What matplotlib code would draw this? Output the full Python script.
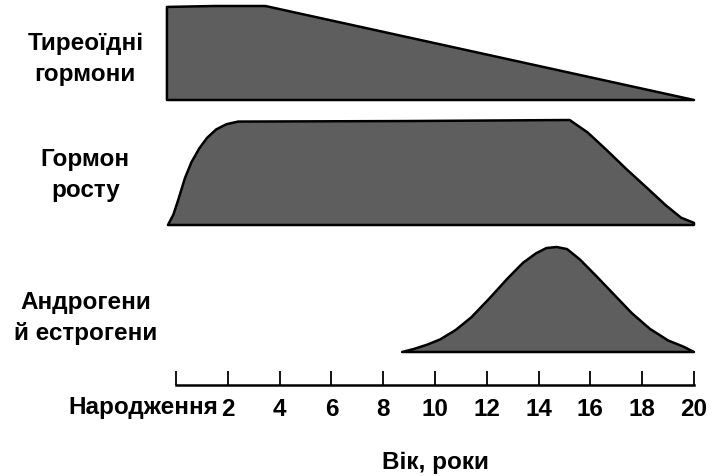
import matplotlib
matplotlib.use("Agg")
import matplotlib.pyplot as plt

plt.rcParams['font.family'] = ['Liberation Sans', 'DejaVu Sans']

# вік, роки та відносний рівень гормонів (0..1)
thyroid_age = [-0.35, 1.5, 3.45, 20]
thyroid_level = [0.99, 1.0, 1.0, 0.0]

growth_age = [-0.31, -0.1, 0.1, 0.35, 0.6, 0.9, 1.2, 1.55, 1.95, 2.4, 8.84, 15.2,
              15.9, 16.6, 17.4, 18.2, 18.9, 19.5, 20]
growth_level = [0.0, 0.1, 0.25, 0.45, 0.6, 0.73, 0.83, 0.91, 0.96, 0.985, 0.99, 1.0,
                0.88, 0.72, 0.53, 0.35, 0.19, 0.07, 0.02]

sex_age = [8.73, 9.2, 9.7, 10.2, 10.8, 11.4, 12.1, 12.8, 13.4, 13.9, 14.3, 14.7,
           15.1, 15.6, 16.2, 16.9, 17.6, 18.3, 19.0, 19.6, 20]
sex_level = [0.0, 0.03, 0.07, 0.12, 0.21, 0.33, 0.51, 0.7, 0.85, 0.94, 0.99, 1.0,
             0.98, 0.88, 0.73, 0.55, 0.37, 0.22, 0.11, 0.05, 0.0]

row_names = ['Тиреоїдні\nгормони', 'Гормон\nросту', 'Андрогени\nй естрогени']
tick_years = [0, 2, 4, 6, 8, 10, 12, 14, 16, 18, 20]
tick_text = ['', '2', '4', '6', '8', '10', '12', '14', '16', '18', '20']

base = [2.85, 1.60, 0.33]
height = [0.94, 1.05, 1.05]
label_y = [3.27, 2.11, 0.68]

fs = 17.5
fig = plt.figure(figsize=(7.13, 4.77), dpi=100)
ax = fig.add_axes([176/713, 91/477, 518/713, 386/477])
ax.set_xlim(0, 20)
ax.set_ylim(0, 3.86)

series = [(thyroid_age, thyroid_level), (growth_age, growth_level), (sex_age, sex_level)]
for i, (a, l) in enumerate(series):
    top = [base[i] + v * height[i] for v in l]
    xs = list(a) + [a[-1], a[0]]
    ys = top + [base[i], base[i]]
    ax.fill(xs, ys, facecolor='#5e5e5e', edgecolor='black', linewidth=1.8,
            joinstyle='round', clip_on=False)
    ax.text(-3.5, label_y[i], row_names[i], ha='center', va='center',
            fontsize=fs, fontweight='bold', linespacing=1.45)

for s in ['top', 'right', 'left']:
    ax.spines[s].set_visible(False)
ax.spines['bottom'].set_linewidth(1.8)
ax.set_yticks([])
ax.set_xticks(tick_years)
ax.set_xticklabels(tick_text, fontsize=fs, fontweight='bold')
ax.tick_params(axis='x', direction='in', length=10, width=1.3, pad=9)
ax.text(1.62, -0.22, 'Народження', ha='right', va='center', fontsize=fs, fontweight='bold')
ax.set_xlabel('Вік, роки', fontsize=fs, fontweight='bold', labelpad=21)

fig.savefig('out.png', dpi=100)
